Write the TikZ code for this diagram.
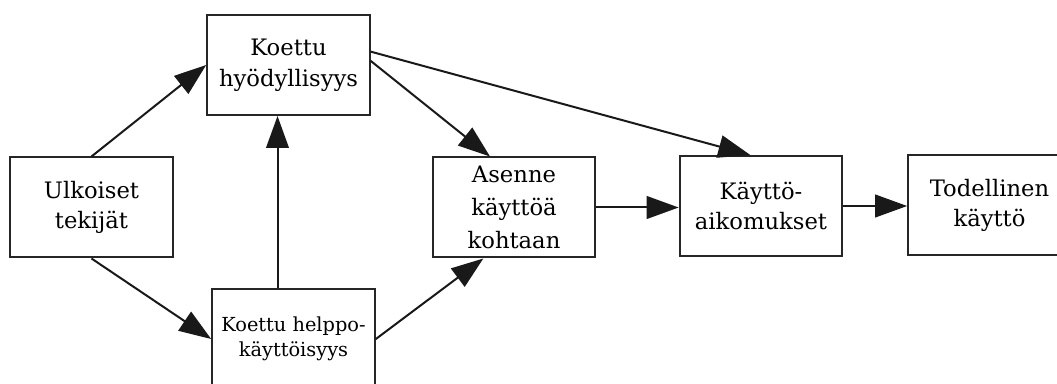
\documentclass[tikz,border=0pt]{standalone}
\usepackage{fontspec}
\setmainfont{DejaVu Serif}
\usetikzlibrary{arrows.meta,positioning}
\tikzset{
  box/.style={draw=black!85, line width=1.5pt, minimum width=122pt, minimum height=75pt,
    align=center, inner sep=2pt, font=\fontsize{17}{23}\selectfont},
  arr/.style={-{Triangle[length=24pt,width=17pt]}, line width=1.5pt, draw=black!90}
}
\begin{document}
\begin{tikzpicture}[x=0.75pt,y=-0.75pt]
        \useasboundingbox (0,0) rectangle (1057,384);
        \node [box] (ulk) at (91.5,207.5) {Ulkoiset\\tekijät};
        \node [box] (hyod) at (288.5,65) {Koettu\\hyödyllisyys};
        \node [box, font=\fontsize{14.5}{19}\selectfont] (help) at (293.5,339) {Koettu helppo-\\käyttöisyys};
        \node [box, font=\fontsize{17}{25}\selectfont] (asen) at (514,207.5) {Asenne\\käyttöä\\kohtaan};
        \node [box] (aik) at (761,206) {Käyttö-\\aikomukset};
        \node [box] (tod) at (989.5,205.5) {Todellinen\\käyttö};
        \draw[arr] (ulk.north) -- (hyod.west);
        \draw[arr] (ulk.south) -- (help.west);
        \draw[arr] ([xshift=-12pt]help.north) -- ([xshift=-12pt]help.north |- hyod.south);
        \draw[arr] ([yshift=3pt]hyod.east) -- ([xshift=-18pt]asen.north);
        \draw[arr] ([yshift=10pt]hyod.east) -- ([xshift=-8pt]aik.north);
        \draw[arr] (help.east) -- ([xshift=-23pt]asen.south);
        \draw[arr] (asen.east) -- (asen.east -| aik.west);
        \draw[arr] (aik.east) -- (aik.east -| tod.west);
      \end{tikzpicture}
\end{document}
